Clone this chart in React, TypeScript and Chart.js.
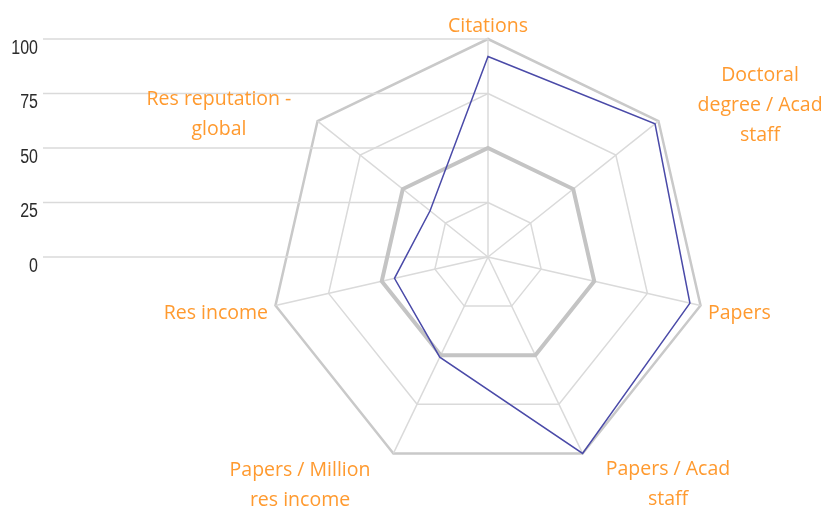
import { useEffect, useRef } from "react";
import { Chart, registerables } from "chart.js";

Chart.register(...registerables);

// ---- data ----
const categories: (string | string[])[] = [
  "Citations",
  ["Doctoral", "degree / Acad", "staff"],
  "Papers",
  ["Papers / Acad", "staff"],
  ["Papers / Million", "res income"],
  "Res income",
  ["Res reputation -", "global"],
];
const institutionScores = [92, 98, 95, 100, 51, 44, 34];
const benchmarkScores = [50, 50, 50, 50, 50, 50, 50];
const tickValues = [0, 25, 50, 75, 100];

// ---- styling / placement (not data) ----
const LABEL_FONT = '19.5px "Open Sans", sans-serif';
const TICK_FONT = '20px "Liberation Sans", sans-serif';
const TICK_SQUEEZE = 0.8;
const LABEL_COLOR = "#ff9a2f";
const GRID_COLOR = "#dadada";
const LABEL_PLACEMENT: { align: "center" | "left" | "right"; dx: number; dy: number }[] = [
  { align: "center", dx: 0, dy: -14 },
  { align: "center", dx: 101.6, dy: -17 },
  { align: "left", dx: 7.5, dy: 6.5 },
  { align: "center", dx: 85.4, dy: 29.6 },
  { align: "center", dx: -93.4, dy: 30.6 },
  { align: "right", dx: -7.5, dy: 6.5 },
  { align: "center", dx: -98.6, dy: -7.6 },
];
const LINE_HEIGHT = 30;

const overlayPlugin = {
  id: "overlay",
  beforeDatasetsDraw(chart: any) {
    const r = chart.scales.r;
    const ctx = chart.ctx as CanvasRenderingContext2D;
    ctx.save();
    r.ticks.forEach((t: any) => {
      const y = r.yCenter - r.getDistanceFromCenterForValue(t.value);
      ctx.strokeStyle = GRID_COLOR;
      ctx.lineWidth = 1.5;
      ctx.beginPath();
      ctx.moveTo(43, y);
      ctx.lineTo(r.xCenter, y);
      ctx.stroke();
      ctx.save();
      ctx.fillStyle = "#2b2b2b";
      ctx.font = TICK_FONT;
      ctx.textAlign = "right";
      ctx.textBaseline = "alphabetic";
      ctx.translate(38, y + 14.5);
      ctx.scale(TICK_SQUEEZE, 1);
      ctx.fillText(String(t.value), 0, 0);
      ctx.restore();
    });
    ctx.restore();
  },
  afterDatasetsDraw(chart: any) {
    const r = chart.scales.r;
    const ctx = chart.ctx as CanvasRenderingContext2D;
    const labels = chart.data.labels as (string | string[])[];
    ctx.save();
    ctx.font = LABEL_FONT;
    ctx.fillStyle = LABEL_COLOR;
    ctx.textBaseline = "alphabetic";
    labels.forEach((lab, i) => {
      const p = r.getPointPosition(i, r.drawingArea);
      const place = LABEL_PLACEMENT[i];
      const lines = Array.isArray(lab) ? lab : [lab];
      ctx.textAlign = place.align;
      const cx = p.x + place.dx;
      const cy = p.y + place.dy;
      const firstY = cy - ((lines.length - 1) * LINE_HEIGHT) / 2;
      lines.forEach((ln, k) => {
        ctx.fillText(ln, cx, firstY + k * LINE_HEIGHT + 6.5);
      });
    });
    ctx.restore();
  },
};

export default function App() {
  const canvasRef = useRef<HTMLCanvasElement | null>(null);

  useEffect(() => {
    if (!canvasRef.current) return;
    const chart = new Chart(canvasRef.current, {
      type: "radar",
      data: {
        labels: categories as any,
        datasets: [
          {
            label: "Institution",
            data: institutionScores,
            borderColor: "#4a4aa8",
            borderWidth: 1.5,
            backgroundColor: "transparent",
            fill: false,
            pointRadius: 0,
            pointHoverRadius: 0,
            tension: 0,
          },
          {
            label: "Benchmark",
            data: benchmarkScores,
            borderColor: "#c4c4c4",
            borderWidth: 4,
            backgroundColor: "transparent",
            fill: false,
            pointRadius: 0,
            pointHoverRadius: 0,
            tension: 0,
          },
        ],
      },
      options: {
        animation: false,
        responsive: false,
        devicePixelRatio: 1,
        layout: { padding: { left: 270, right: 124, top: 39, bottom: 33 } },
        plugins: {
          legend: { display: false },
          tooltip: { enabled: false },
        },
        scales: {
          r: {
            min: 0,
            max: 100,
            afterBuildTicks: (s: any) => {
              s.ticks = tickValues.map((v) => ({ value: v }));
            },
            ticks: { display: false, stepSize: 25 },
            pointLabels: { display: false },
            grid: {
              color: (c: any) => (c.tick && c.tick.value === 100 ? "#c9c9c9" : GRID_COLOR),
              lineWidth: (c: any) => (c.tick && c.tick.value === 100 ? 2.5 : 1.5),
            },
            angleLines: { color: GRID_COLOR, lineWidth: 1.5 },
          },
        },
      },
      plugins: [overlayPlugin],
    });
    return () => chart.destroy();
  }, []);

  return (
    <div style={{ position: "absolute", left: 0, top: 0, width: 830, height: 508, background: "#ffffff" }}>
      <canvas ref={canvasRef} width={830} height={508} style={{ display: "block" }} />
    </div>
  );
}
